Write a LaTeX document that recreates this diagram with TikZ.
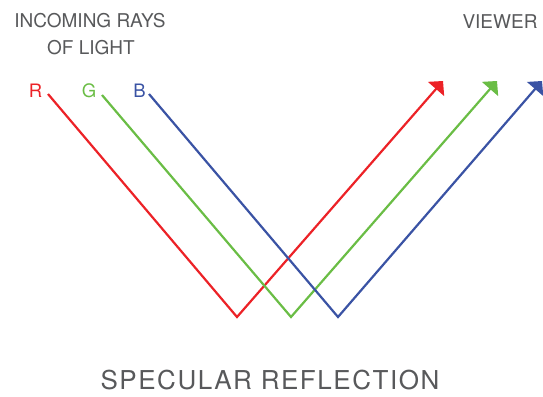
\documentclass[tikz,border=0pt]{standalone}
\usepackage{fontspec}
\setmainfont{TeX Gyre Heros}
\newfontfamily\titlefont[LetterSpace=6]{TeX Gyre Heros}
\newfontfamily\labfont{TeX Gyre Heros}
\usetikzlibrary{arrows.meta}
\definecolor{rayred}{HTML}{EC2227}
\definecolor{raygreen}{HTML}{6ABD45}
\definecolor{rayblue}{HTML}{3A53A4}
\definecolor{txtgray}{HTML}{58595B}
\tikzset{
  ray/.style={line width=2.2pt, line join=miter, -{Triangle[angle=90:15pt]}},
  lab/.style={text=txtgray, font=\labfont\fontsize{19}{27}\selectfont, inner sep=0pt, align=center},
  rgb/.style={font=\labfont\fontsize{18.5}{21}\selectfont, inner sep=0pt},
  ttl/.style={text=txtgray, font=\titlefont\fontsize{26}{30}\selectfont, inner sep=0pt}
}
\begin{document}
\begin{tikzpicture}[x=1pt,y=-1pt]
\useasboundingbox (0,0) rectangle (543,396);
\node[lab] (inc) at (90,21) {INCOMING RAYS};
\node[lab] (ofl) at (91,48) {OF LIGHT};
\node[lab] (view) at (500,22) {VIEWER};
\node[ttl] (title) at (270,380) {SPECULAR REFLECTION};
\node[rgb, text=rayred] (R) at (35.5,91) {R};
\node[rgb, text=raygreen] (G) at (89,91) {G};
\node[rgb, text=rayblue] (B) at (139.5,91) {B};
\coordinate (rs) at (48,94);
\coordinate (rb) at (237,317);
\coordinate (re) at (443,81);
\coordinate (gs) at (102,95);
\coordinate (gb) at (291,317);
\coordinate (ge) at (497,81);
\coordinate (bs) at (149,94);
\coordinate (bb) at (338,317);
\coordinate (be) at (542,81);
\draw[ray, rayred] (rs) -- (rb) -- (re);
\draw[ray, raygreen] (gs) -- (gb) -- (ge);
\draw[ray, rayblue] (bs) -- (bb) -- (be);
\end{tikzpicture}
\end{document}
